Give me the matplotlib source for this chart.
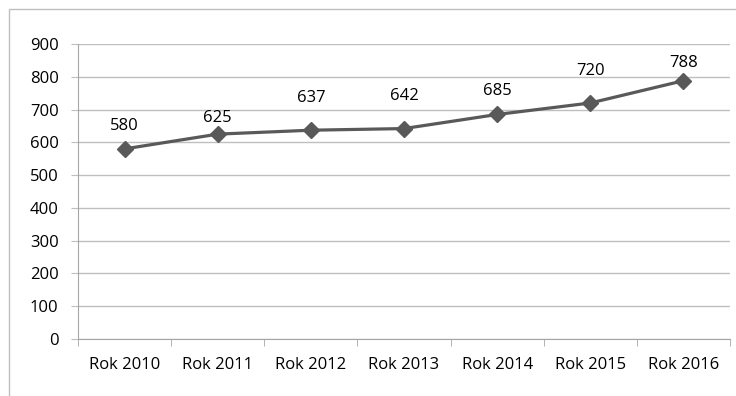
import matplotlib.pyplot as plt
from matplotlib.patches import Rectangle

years = ['Rok 2010', 'Rok 2011', 'Rok 2012', 'Rok 2013', 'Rok 2014', 'Rok 2015', 'Rok 2016']
values = [580, 625, 637, 642, 685, 720, 788]
# label lift above each point, in pixels (as placed in the original)
label_lift = [23, 16, 32, 33, 23, 32, 18]

plt.rcParams['font.family'] = ['Open Sans', 'DejaVu Sans']
fs = 12

fig = plt.figure(figsize=(7.36, 3.96), dpi=100)
ax = fig.add_axes([78 / 736, 1 - 339 / 396, 652 / 736, 295 / 396])

# chart frame
fig.patches.append(Rectangle((9 / 736, -0.05), 1.1, 1 - 9 / 396 + 0.05,
                             transform=fig.transFigure, fill=False,
                             edgecolor='#bfbfbf', linewidth=1))

x = range(len(years))
ax.plot(x, values, color='#595959', linewidth=2.3, marker='D', markersize=8,
        zorder=3)

for xi, v, dy in zip(x, values, label_lift):
    ax.annotate(str(v), (xi, v), xytext=(0, dy), textcoords='offset pixels',
                ha='center', va='center', fontsize=fs, color='black')

ax.set_xlim(-0.5, len(years) - 0.5)
ax.set_ylim(0, 900)
ax.set_yticks(range(0, 901, 100))
ax.set_xticks(x)
ax.set_xticklabels(years)
ax.set_xticks([i - 0.5 for i in range(len(years) + 1)], minor=True)

ax.grid(axis='y', color='#bfbfbf', linewidth=1)
ax.set_axisbelow(True)
for side in ['top', 'right']:
    ax.spines[side].set_visible(False)
for side in ['left', 'bottom']:
    ax.spines[side].set_color('#a6a6a6')

ax.tick_params(axis='y', length=5, color='#bfbfbf', labelsize=fs, pad=9)
ax.tick_params(axis='x', which='major', length=0, labelsize=fs, pad=13)
ax.tick_params(axis='x', which='minor', length=5, color='#a6a6a6')

fig.savefig('out.png', dpi=100)
